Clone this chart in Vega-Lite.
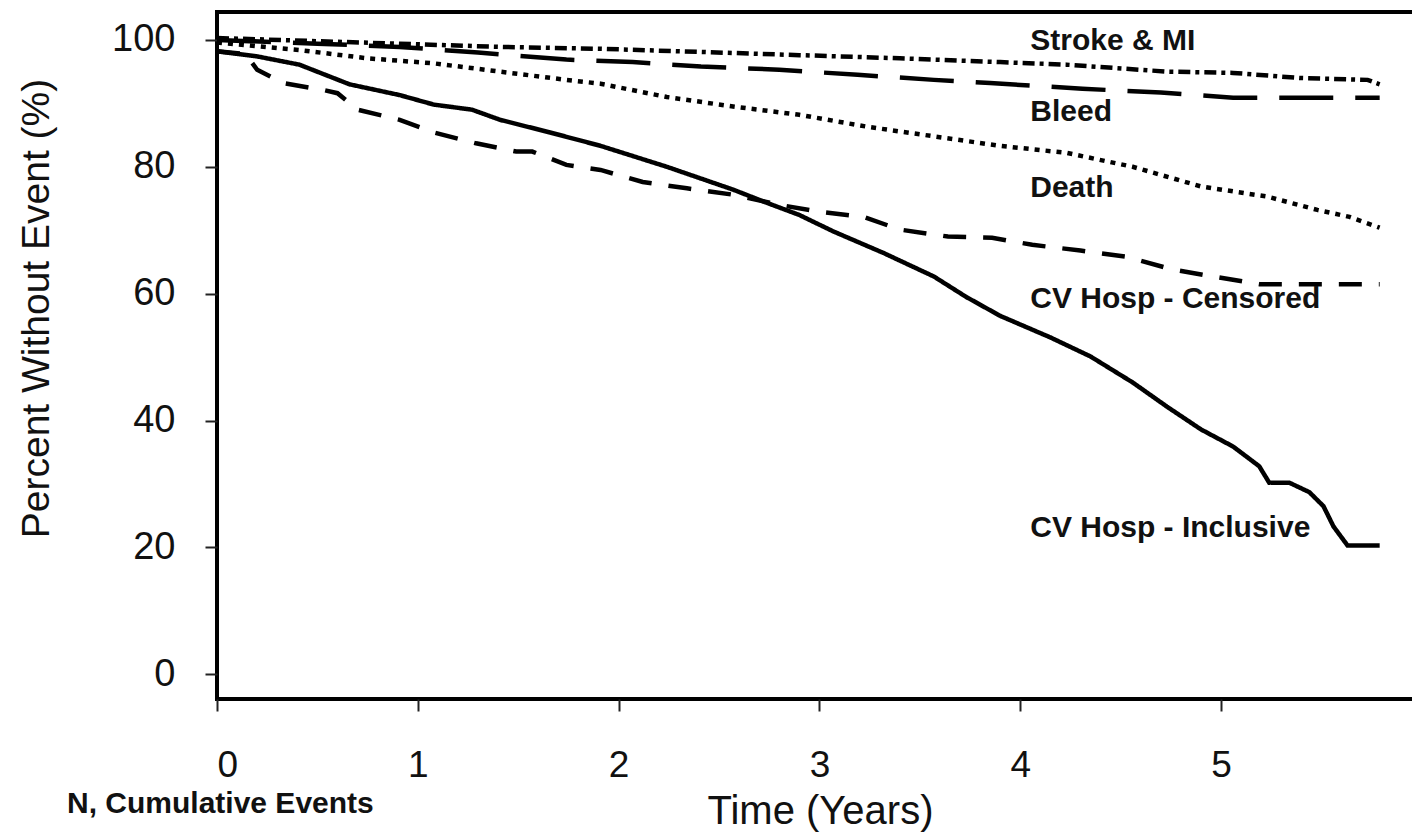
{
  "$schema": "https://vega.github.io/schema/vega-lite/v6.json",
  "autosize": "none",
  "width": 1197,
  "height": 687,
  "padding": {"left": 217, "top": 12, "right": 0, "bottom": 133},
  "background": "white",
  "config": {
    "view": {"stroke": "black", "strokeWidth": 4},
    "font": "Liberation Sans"
  },
  "title": {
    "text": "N, Cumulative Events",
    "orient": "bottom",
    "anchor": "start",
    "frame": "group",
    "dx": -150,
    "dy": -42,
    "offset": 0,
    "fontSize": 30,
    "fontWeight": "bold",
    "font": "Liberation Sans",
    "color": "#111"
  },
  "datasets": {
    "curves": [
      {"series": "CV Hosp - Inclusive", "t": 0, "pct": 98.2},
      {"series": "CV Hosp - Inclusive", "t": 0.2, "pct": 97.4},
      {"series": "CV Hosp - Inclusive", "t": 0.41, "pct": 96.1},
      {"series": "CV Hosp - Inclusive", "t": 0.66, "pct": 93.0},
      {"series": "CV Hosp - Inclusive", "t": 0.91, "pct": 91.3},
      {"series": "CV Hosp - Inclusive", "t": 1.08, "pct": 89.8},
      {"series": "CV Hosp - Inclusive", "t": 1.27, "pct": 89.0},
      {"series": "CV Hosp - Inclusive", "t": 1.41, "pct": 87.4},
      {"series": "CV Hosp - Inclusive", "t": 1.66, "pct": 85.4},
      {"series": "CV Hosp - Inclusive", "t": 1.91, "pct": 83.3},
      {"series": "CV Hosp - Inclusive", "t": 2.24, "pct": 80.0},
      {"series": "CV Hosp - Inclusive", "t": 2.57, "pct": 76.4},
      {"series": "CV Hosp - Inclusive", "t": 2.74, "pct": 74.3},
      {"series": "CV Hosp - Inclusive", "t": 2.9, "pct": 72.4},
      {"series": "CV Hosp - Inclusive", "t": 3.07, "pct": 69.8},
      {"series": "CV Hosp - Inclusive", "t": 3.32, "pct": 66.4},
      {"series": "CV Hosp - Inclusive", "t": 3.57, "pct": 62.7},
      {"series": "CV Hosp - Inclusive", "t": 3.73, "pct": 59.5},
      {"series": "CV Hosp - Inclusive", "t": 3.9, "pct": 56.5},
      {"series": "CV Hosp - Inclusive", "t": 4.15, "pct": 53.1},
      {"series": "CV Hosp - Inclusive", "t": 4.35, "pct": 50.1},
      {"series": "CV Hosp - Inclusive", "t": 4.56, "pct": 46.0},
      {"series": "CV Hosp - Inclusive", "t": 4.73, "pct": 42.2},
      {"series": "CV Hosp - Inclusive", "t": 4.9, "pct": 38.6},
      {"series": "CV Hosp - Inclusive", "t": 5.06, "pct": 35.9},
      {"series": "CV Hosp - Inclusive", "t": 5.19, "pct": 32.8},
      {"series": "CV Hosp - Inclusive", "t": 5.24, "pct": 30.2},
      {"series": "CV Hosp - Inclusive", "t": 5.34, "pct": 30.2},
      {"series": "CV Hosp - Inclusive", "t": 5.44, "pct": 28.7},
      {"series": "CV Hosp - Inclusive", "t": 5.51, "pct": 26.5},
      {"series": "CV Hosp - Inclusive", "t": 5.56, "pct": 23.3},
      {"series": "CV Hosp - Inclusive", "t": 5.63, "pct": 20.3},
      {"series": "CV Hosp - Inclusive", "t": 5.79, "pct": 20.3},

      {"series": "CV Hosp - Censored", "t": 0, "pct": 98.2},
      {"series": "CV Hosp - Censored", "t": 0.14, "pct": 97.8},
      {"series": "CV Hosp - Censored", "t": 0.16, "pct": 97.0},
      {"series": "CV Hosp - Censored", "t": 0.2, "pct": 95.3},
      {"series": "CV Hosp - Censored", "t": 0.33, "pct": 93.2},
      {"series": "CV Hosp - Censored", "t": 0.53, "pct": 92.1},
      {"series": "CV Hosp - Censored", "t": 0.6, "pct": 91.6},
      {"series": "CV Hosp - Censored", "t": 0.7, "pct": 89.0},
      {"series": "CV Hosp - Censored", "t": 0.91, "pct": 87.4},
      {"series": "CV Hosp - Censored", "t": 1.08, "pct": 85.4},
      {"series": "CV Hosp - Censored", "t": 1.29, "pct": 83.7},
      {"series": "CV Hosp - Censored", "t": 1.49, "pct": 82.4},
      {"series": "CV Hosp - Censored", "t": 1.57, "pct": 82.4},
      {"series": "CV Hosp - Censored", "t": 1.74, "pct": 80.3},
      {"series": "CV Hosp - Censored", "t": 1.91, "pct": 79.5},
      {"series": "CV Hosp - Censored", "t": 2.12, "pct": 77.6},
      {"series": "CV Hosp - Censored", "t": 2.34, "pct": 76.6},
      {"series": "CV Hosp - Censored", "t": 2.57, "pct": 75.6},
      {"series": "CV Hosp - Censored", "t": 2.8, "pct": 74.0},
      {"series": "CV Hosp - Censored", "t": 3.0, "pct": 72.9},
      {"series": "CV Hosp - Censored", "t": 3.22, "pct": 72.1},
      {"series": "CV Hosp - Censored", "t": 3.4, "pct": 70.1},
      {"series": "CV Hosp - Censored", "t": 3.64, "pct": 69.0},
      {"series": "CV Hosp - Censored", "t": 3.86, "pct": 68.8},
      {"series": "CV Hosp - Censored", "t": 4.06, "pct": 67.7},
      {"series": "CV Hosp - Censored", "t": 4.3, "pct": 66.8},
      {"series": "CV Hosp - Censored", "t": 4.53, "pct": 65.8},
      {"series": "CV Hosp - Censored", "t": 4.76, "pct": 63.8},
      {"series": "CV Hosp - Censored", "t": 4.96, "pct": 62.7},
      {"series": "CV Hosp - Censored", "t": 5.19, "pct": 61.5},
      {"series": "CV Hosp - Censored", "t": 5.79, "pct": 61.5},

      {"series": "Death", "t": 0, "pct": 99.6},
      {"series": "Death", "t": 0.41, "pct": 98.4},
      {"series": "Death", "t": 0.75, "pct": 97.1},
      {"series": "Death", "t": 1.08, "pct": 96.3},
      {"series": "Death", "t": 1.41, "pct": 95.0},
      {"series": "Death", "t": 1.74, "pct": 93.7},
      {"series": "Death", "t": 1.91, "pct": 93.1},
      {"series": "Death", "t": 2.24, "pct": 91.0},
      {"series": "Death", "t": 2.57, "pct": 89.5},
      {"series": "Death", "t": 2.9, "pct": 88.2},
      {"series": "Death", "t": 3.24, "pct": 86.3},
      {"series": "Death", "t": 3.57, "pct": 84.8},
      {"series": "Death", "t": 3.9, "pct": 83.3},
      {"series": "Death", "t": 4.23, "pct": 82.2},
      {"series": "Death", "t": 4.56, "pct": 80.0},
      {"series": "Death", "t": 4.9, "pct": 76.9},
      {"series": "Death", "t": 5.23, "pct": 75.3},
      {"series": "Death", "t": 5.48, "pct": 73.2},
      {"series": "Death", "t": 5.64, "pct": 72.1},
      {"series": "Death", "t": 5.79, "pct": 70.4},

      {"series": "Bleed", "t": 0, "pct": 100.0},
      {"series": "Bleed", "t": 0.5, "pct": 99.4},
      {"series": "Bleed", "t": 0.91, "pct": 98.9},
      {"series": "Bleed", "t": 1.3, "pct": 98.0},
      {"series": "Bleed", "t": 1.74, "pct": 96.9},
      {"series": "Bleed", "t": 2.07, "pct": 96.5},
      {"series": "Bleed", "t": 2.41, "pct": 95.8},
      {"series": "Bleed", "t": 2.8, "pct": 95.3},
      {"series": "Bleed", "t": 3.19, "pct": 94.5},
      {"series": "Bleed", "t": 3.57, "pct": 93.7},
      {"series": "Bleed", "t": 3.85, "pct": 93.2},
      {"series": "Bleed", "t": 4.31, "pct": 92.3},
      {"series": "Bleed", "t": 4.7, "pct": 91.7},
      {"series": "Bleed", "t": 5.06, "pct": 90.9},
      {"series": "Bleed", "t": 5.79, "pct": 90.9},

      {"series": "Stroke & MI", "t": 0, "pct": 100.3},
      {"series": "Stroke & MI", "t": 0.5, "pct": 99.8},
      {"series": "Stroke & MI", "t": 0.91, "pct": 99.4},
      {"series": "Stroke & MI", "t": 1.41, "pct": 98.9},
      {"series": "Stroke & MI", "t": 1.91, "pct": 98.6},
      {"series": "Stroke & MI", "t": 2.41, "pct": 98.1},
      {"series": "Stroke & MI", "t": 2.9, "pct": 97.6},
      {"series": "Stroke & MI", "t": 3.4, "pct": 97.1},
      {"series": "Stroke & MI", "t": 3.9, "pct": 96.5},
      {"series": "Stroke & MI", "t": 4.23, "pct": 96.1},
      {"series": "Stroke & MI", "t": 4.73, "pct": 95.0},
      {"series": "Stroke & MI", "t": 5.06, "pct": 94.8},
      {"series": "Stroke & MI", "t": 5.39, "pct": 94.0},
      {"series": "Stroke & MI", "t": 5.73, "pct": 93.7},
      {"series": "Stroke & MI", "t": 5.79, "pct": 93.0}
    ],
    "labels": [
      {"label": "Stroke & MI", "t": 4.05, "pct": 99.8},
      {"label": "Bleed", "t": 4.05, "pct": 88.6},
      {"label": "Death", "t": 4.05, "pct": 76.6},
      {"label": "CV Hosp - Censored", "t": 4.05, "pct": 59.2},
      {"label": "CV Hosp - Inclusive", "t": 4.05, "pct": 23.0}
    ]
  },
  "encoding": {
    "x": {
      "field": "t",
      "type": "quantitative",
      "scale": {"domain": [0, 5.961], "nice": false, "zero": false},
      "axis": {
        "title": "Time (Years)",
        "values": [0, 1, 2, 3, 4, 5],
        "format": "d",
        "grid": false,
        "domain": false,
        "tickColor": "#222",
        "tickWidth": 2,
        "tickSize": 12,
        "labelFontSize": 37,
        "labelColor": "#111",
        "labelPadding": 36,
        "labelFont": "Liberation Sans",
        "titleFont": "Liberation Sans",
        "titleFontSize": 40,
        "titleFontWeight": "normal",
        "titleColor": "#111",
        "titleX": 603,
        "titleY": 112,
        "titleBaseline": "middle",
        "titleAnchor": "start",
        "titleAlign": "center"
      }
    },
    "y": {
      "field": "pct",
      "type": "quantitative",
      "scale": {"domain": [-3.9, 104.4], "nice": false, "zero": false},
      "axis": {
        "title": "Percent Without Event (%)",
        "values": [0, 20, 40, 60, 80, 100],
        "grid": false,
        "domain": false,
        "tickColor": "#222",
        "tickWidth": 2,
        "tickSize": 12,
        "labelFontSize": 38,
        "labelColor": "#111",
        "labelPadding": 30,
        "labelFont": "Liberation Sans",
        "titleFont": "Liberation Sans",
        "titleFontSize": 39,
        "titleFontWeight": "normal",
        "titleColor": "#111",
        "titleAngle": -90,
        "titleX": -181,
        "titleY": 296,
        "titleBaseline": "middle",
        "titleAlign": "center"
      }
    }
  },
  "layer": [
    {
      "data": {"name": "curves"},
      "mark": {"type": "line", "color": "black", "strokeWidth": 4.5, "interpolate": "linear"},
      "encoding": {
        "detail": {"field": "series", "type": "nominal"},
        "strokeDash": {
          "field": "series",
          "type": "nominal",
          "scale": {
            "domain": ["CV Hosp - Inclusive", "CV Hosp - Censored", "Death", "Bleed", "Stroke & MI"],
            "range": [[1, 0], [23, 17], [5, 6], [54, 22], [12, 5, 4, 5]]
          },
          "legend": null
        }
      }
    },
    {
      "data": {"name": "labels"},
      "mark": {
        "type": "text",
        "align": "left",
        "baseline": "middle",
        "font": "Liberation Sans",
        "fontWeight": "bold",
        "fontSize": 30,
        "color": "#111"
      },
      "encoding": {
        "text": {"field": "label", "type": "nominal"}
      }
    }
  ]
}
